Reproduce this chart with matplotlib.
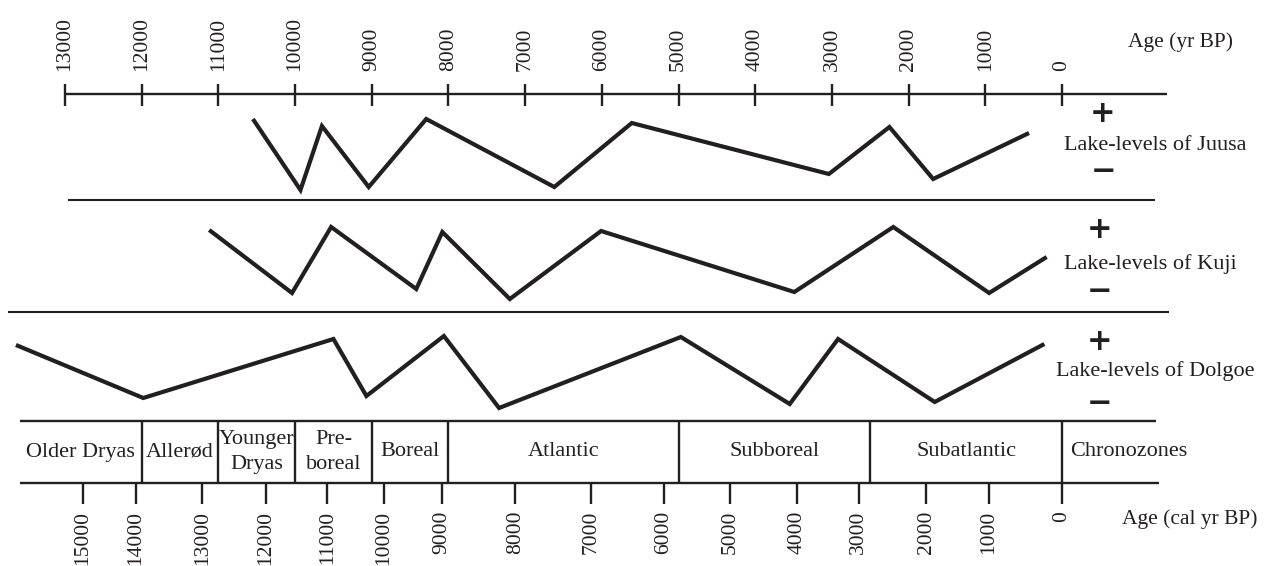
import matplotlib
matplotlib.use("Agg")
import matplotlib.pyplot as plt

W, H, DPI = 1268, 566, 100
INK = "#231f20"
SERIF = ["Liberation Serif", "DejaVu Serif"]

# Radiocarbon age scale (yr BP)
age_ticks = [13000, 12000, 11000, 10000, 9000, 8000, 7000,
             6000, 5000, 4000, 3000, 2000, 1000, 0]

# Calibrated ages (cal yr BP) and where they fall on the radiocarbon scale
cal_labels = [15000, 14000, 13000, 12000, 11000, 10000, 9000, 8000,
              7000, 6000, 5000, 4000, 3000, 2000, 1000, 0]
cal_at_c14 = [12770, 12080, 11210, 10380, 9580, 8840, 8090, 7130,
              6140, 5190, 4330, 3460, 2650, 1770, 950, 0]

# Chronozones (upper boundaries in yr BP)
zone_names = ["Older Dryas", "Allerød", "Younger\nDryas", "Pre-\nboreal",
              "Boreal", "Atlantic", "Subboreal", "Subatlantic"]
zone_bounds = [12000, 11000, 10000, 9000, 8000, 5000, 2500, 0]

# Relative lake levels (0 = low, 1 = high)
juusa_age = [10550, 9930, 9650, 9040, 8290, 6620, 5610, 3040, 2250, 1680, 430]
juusa_level = [0.81, 0.10, 0.74, 0.13, 0.81, 0.13, 0.77, 0.26, 0.73, 0.21, 0.67]

kuji_age = [11120, 10040, 9530, 8420, 8080, 7200, 6010, 3490, 2200, 950, 200]
kuji_level = [0.81, 0.18, 0.84, 0.22, 0.79, 0.12, 0.80, 0.19, 0.84, 0.18, 0.54]

dolgoe_age = [13640, 11980, 9500, 9070, 8060, 7340, 4970, 3550, 2920, 1660, 230]
dolgoe_level = [0.75, 0.22, 0.81, 0.24, 0.84, 0.12, 0.83, 0.16, 0.81, 0.18, 0.76]

lakes = [("Juusa", juusa_age, juusa_level),
         ("Kuji", kuji_age, kuji_level),
         ("Dolgoe", dolgoe_age, dolgoe_level)]

# Age axis geometry: pixel position of 0 yr BP and pixels per year
X0, K = 1062.0, 0.07669
def age_at(px):
    return (X0 - px) / K
XLIM = (age_at(0), age_at(W))

fig = plt.figure(figsize=(W / DPI, H / DPI), dpi=DPI)
fig.patch.set_facecolor("white")

# Layout layer in pixel units
deco = fig.add_axes([0, 0, 1, 1])
deco.set_xlim(0, W)
deco.set_ylim(H, 0)
deco.axis("off")

# Age layer: x in yr BP, y in pixel rows
ax = fig.add_axes([0, 0, 1, 1], facecolor="none")
ax.set_xlim(*XLIM)
ax.set_ylim(H, 0)
ax.axis("off")

# --- top radiocarbon axis ---
AXIS_Y = 94
ax.hlines(AXIS_Y, age_ticks[0], age_at(1167), color=INK, lw=1.7)
ax.vlines(age_ticks, AXIS_Y - 10, AXIS_Y + 12, color=INK, lw=1.7)
for a in age_ticks:
    ax.text(a, AXIS_Y - 23, str(a), rotation=90, ha="center", va="bottom",
            fontsize=15.5, family=SERIF, color=INK)
deco.text(1180, 42, "Age (yr BP)", ha="center", va="center",
          fontsize=15.5, family=SERIF, color=INK)

# --- lake-level panels ---
panel_base = {"Juusa": 200, "Kuji": 311, "Dolgoe": 420}
sign_pos = {"Juusa": (1103, 113, 171), "Kuji": (1100, 230, 291),
            "Dolgoe": (1100, 341, 403)}
label_pos = {"Juusa": (1155, 145), "Kuji": (1150, 264), "Dolgoe": (1155, 371)}
PANEL_H = 100

for name, ages, levels in lakes:
    base = panel_base[name]
    pax = fig.add_axes([0, (H - base) / H, 1, PANEL_H / H], facecolor="none")
    pax.set_xlim(*XLIM)
    pax.set_ylim(0, 1)
    pax.axis("off")
    pax.plot(ages, levels, color=INK, lw=3.0, clip_on=False,
             solid_joinstyle="miter", solid_capstyle="butt")
    sx, sy_plus, sy_minus = sign_pos[name]
    deco.text(sx, sy_plus, "+", ha="center", va="center", fontsize=22,
              fontweight="bold", family="DejaVu Sans", color=INK)
    deco.text(sx, sy_minus, "\u2212", ha="center", va="center", fontsize=22,
              fontweight="bold", family="DejaVu Sans", color=INK)
    lx, ly = label_pos[name]
    deco.text(lx, ly, f"Lake-levels of {name}", ha="center", va="center",
              fontsize=16, family=SERIF, color=INK)

# separators between panels
deco.hlines(200, 68, 1155, color=INK, lw=1.5)
deco.hlines(312, 8, 1169, color=INK, lw=1.5)

# --- chronozone band ---
BOX_TOP, BOX_BOT, BOX_LEFT = 421, 483, 20
deco.hlines(BOX_TOP, BOX_LEFT, 1156, color=INK, lw=1.7)
deco.hlines(BOX_BOT, BOX_LEFT, 1159, color=INK, lw=1.7)
ax.vlines(zone_bounds, BOX_TOP, BOX_BOT, color=INK, lw=1.7)

edges = [age_at(BOX_LEFT)] + zone_bounds
for i, zname in enumerate(zone_names):
    mid = (edges[i] + edges[i + 1]) / 2
    ax.text(mid, (BOX_TOP + BOX_BOT) / 2, zname, ha="center", va="center",
            fontsize=16, family=SERIF, color=INK, linespacing=1.45)
deco.text(1129, 452, "Chronozones", ha="center", va="center",
          fontsize=16, family=SERIF, color=INK)

# --- bottom calibrated axis ---
ax.vlines(cal_at_c14, BOX_BOT, BOX_BOT + 21, color=INK, lw=1.7)
for pos, lab in zip(cal_at_c14, cal_labels):
    ax.text(pos, BOX_BOT + 28, str(lab), rotation=90, ha="center", va="top",
            fontsize=15.5, family=SERIF, color=INK)
deco.text(1190, 519, "Age (cal yr BP)", ha="center", va="center",
          fontsize=15.5, family=SERIF, color=INK)

fig.savefig("out.png", dpi=DPI, facecolor="white")
